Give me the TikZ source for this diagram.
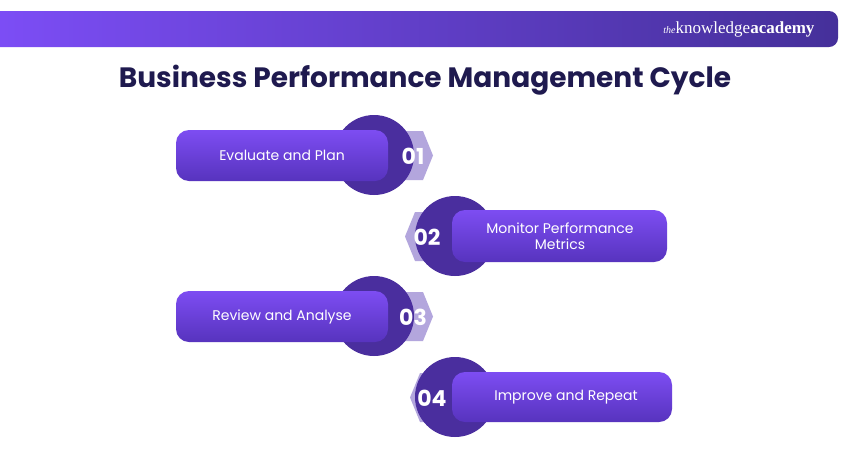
\documentclass[tikz,border=0pt]{standalone}
\usepackage{fontspec}
\setmainfont{Poppins}
\newfontfamily\brandfont{Liberation Serif}
\begin{document}
\begin{tikzpicture}[x=1pt,y=-1pt,
  pill/.style={rounded corners=13pt,top color=pilltop,bottom color=pillbot,draw=none},
  disc/.style={fill=discc,draw=none},
  badge/.style={fill=badgec,draw=none},
  num/.style={text=white,font=\bfseries\fontsize{22}{22}\selectfont},
  lab/.style={text=white,font=\fontsize{14}{16}\selectfont,align=center}]
\definecolor{pilltop}{HTML}{7D4DF2}
\definecolor{pillbot}{HTML}{5733BE}
\definecolor{discc}{HTML}{4A2E9E}
\definecolor{badgec}{HTML}{B3A6DD}
\definecolor{titlec}{HTML}{1F1A4F}
\definecolor{banl}{HTML}{7C4DF5}
\definecolor{banr}{HTML}{45309A}
\useasboundingbox (0,0) rectangle (850,450);
\fill[white] (0,0) rectangle (850,450);
% banner
\path[left color=banl,right color=banr] (0,11) [rounded corners=9pt] -- (838,11) -- (838,47) [sharp corners] -- (0,47) -- cycle;
\node[text=white,anchor=east,font=\brandfont\fontsize{17}{17}\selectfont] (brand) at (818,29) {{\fontsize{10}{10}\selectfont\itshape the}knowledge\textbf{academy}};
\node[text=titlec,font=\bfseries\fontsize{28}{28}\selectfont] (title) at (425,80) {Business Performance Management Cycle};
% item 1
\fill[badge] (387,131) -- (423,131) -- (433,155.5) -- (423,180) -- (387,180) -- cycle;
\fill[disc] (374,155) circle (40);
\path[pill] (176,130) rectangle (388,181);
\node[lab] (l1) at (282,155.5) {Evaluate and Plan};
\node[num] (n1) at (413,156) {01};
% item 2
\fill[badge] (455,212) -- (415,212) -- (405,236.5) -- (415,261) -- (455,261) -- cycle;
\fill[disc] (455,236) circle (40);
\path[pill] (452,210) rectangle (667,262);
\node[lab] (l2) at (560,236) {Monitor Performance\\Metrics};
\node[num] (n2) at (427,237) {02};
% item 3
\fill[badge] (387,292) -- (423,292) -- (433,316.5) -- (423,341) -- (387,341) -- cycle;
\fill[disc] (374,316) circle (40);
\path[pill] (176,291) rectangle (388,342);
\node[lab] (l3) at (282,316.5) {Review and Analyse};
\node[num] (n3) at (413,317) {03};
% item 4
\fill[badge] (458,373) -- (420,373) -- (410,397.5) -- (420,422) -- (458,422) -- cycle;
\fill[disc] (455,397) circle (40);
\path[pill] (452,372) rectangle (672,422);
\node[lab] (l4) at (566,397) {Improve and Repeat};
\node[num] (n4) at (432,398) {04};
\end{tikzpicture}
\end{document}
